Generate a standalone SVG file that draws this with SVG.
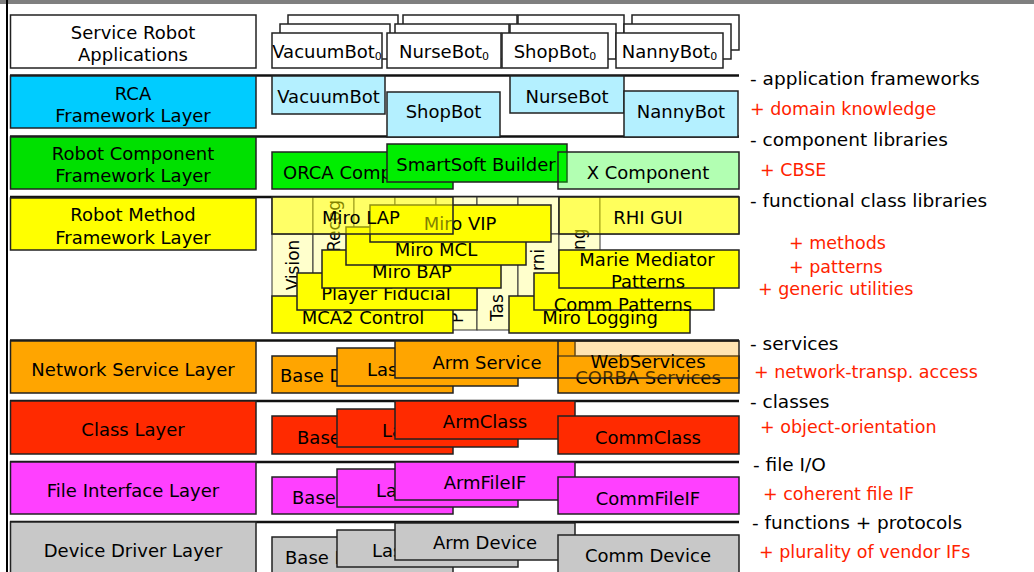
<svg xmlns="http://www.w3.org/2000/svg" width="1034" height="572" viewBox="0 0 1034 572">
  <style>
    .t { font-family: "DejaVu Sans", "Liberation Sans", sans-serif; font-size: 18px; fill: #000; dominant-baseline: central; }
    .m { text-anchor: middle; }
    .note { font-size: 18.5px; }
    .red { fill: #ff2200; font-size: 17.5px; }
    .sub { font-size: 11px; }
    .b { stroke: #222; stroke-width: 1.5; }
    .cell { fill: #ffffcc; stroke: #333; stroke-width: 1; }
    .app { fill: #fff; }
    .cyan { fill: #b4f0ff; }
    .green { fill: #00ee00; }
    .yel { fill: #ffff00; }
    .org { fill: #ffa500; }
    .redf { fill: #ff2a00; }
    .mag { fill: #ff40ff; }
    .gry { fill: #c8c8c8; }
    .rule { stroke: #111; stroke-width: 2.5; }
    .rot { font-size: 17px; }
  </style>

  <!-- frame -->
  <rect x="0" y="0" width="1034" height="4" fill="#7f7f7f"/>
  <line x1="7" y1="0" x2="7" y2="572" stroke="#000" stroke-width="2"/>

  <!-- layer separators -->
  <g id="connectors">
    <line class="rule" x1="10" y1="75.5" x2="739" y2="75.5"/>
    <line class="rule" x1="10" y1="136.5" x2="739" y2="136.5"/>
    <line class="rule" x1="10" y1="197" x2="739" y2="197"/>
    <line class="rule" x1="10" y1="340.5" x2="739" y2="340.5"/>
    <line class="rule" x1="10" y1="401" x2="739" y2="401"/>
    <line class="rule" x1="10" y1="462" x2="739" y2="462"/>
    <line class="rule" x1="10" y1="522" x2="739" y2="522"/>
  </g>

  <!-- layer names -->
  <g id="layer-apps">
    <rect class="b app" x="10.5" y="15" width="245.5" height="53"/>
    <text class="t m" x="133" y="32">Service Robot</text>
    <text class="t m" x="133" y="54">Applications</text>
  </g>
  <g id="layer-rca">
    <rect class="b" fill="#00ccff" x="10.5" y="76" width="245.5" height="52"/>
    <text class="t m" x="133" y="93">RCA</text>
    <text class="t m" x="133" y="115">Framework Layer</text>
  </g>
  <g id="layer-component">
    <rect class="b" fill="#00e000" x="10.5" y="137" width="245.5" height="52"/>
    <text class="t m" x="133" y="153">Robot Component</text>
    <text class="t m" x="133" y="175">Framework Layer</text>
  </g>
  <g id="layer-method">
    <rect class="b yel" x="10.5" y="198" width="245.5" height="52"/>
    <text class="t m" x="133" y="214">Robot Method</text>
    <text class="t m" x="133" y="237">Framework Layer</text>
  </g>
  <g id="layer-network">
    <rect class="b org" x="10.5" y="341" width="245.5" height="52"/>
    <text class="t m" x="133" y="369">Network Service Layer</text>
  </g>
  <g id="layer-class">
    <rect class="b redf" x="10.5" y="401" width="245.5" height="53"/>
    <text class="t m" x="133" y="429">Class Layer</text>
  </g>
  <g id="layer-file">
    <rect class="b mag" x="10.5" y="462" width="245.5" height="52"/>
    <text class="t m" x="133" y="490">File Interface Layer</text>
  </g>
  <g id="layer-device">
    <rect class="b gry" x="10.5" y="522" width="245.5" height="60"/>
    <text class="t m" x="133" y="550">Device Driver Layer</text>
  </g>

  <!-- application instances -->
  <g id="bot-vacuum0">
    <rect class="b app" x="288" y="15" width="110" height="35"/>
    <rect class="b app" x="280" y="24" width="110" height="35"/>
    <rect class="b app" x="272" y="33" width="110" height="35"/>
    <text class="t m" x="327" y="51">VacuumBot<tspan class="sub" dy="5">0</tspan></text>
  </g>
  <g id="bot-nurse0">
    <rect class="b app" x="403" y="15" width="114" height="35"/>
    <rect class="b app" x="395" y="24" width="114" height="35"/>
    <rect class="b app" x="387" y="33" width="114" height="35"/>
    <text class="t m" x="444" y="51">NurseBot<tspan class="sub" dy="5">0</tspan></text>
  </g>
  <g id="bot-shop0">
    <rect class="b app" x="518" y="15" width="106" height="35"/>
    <rect class="b app" x="510" y="24" width="106" height="35"/>
    <rect class="b app" x="502" y="33" width="106" height="35"/>
    <text class="t m" x="555" y="51">ShopBot<tspan class="sub" dy="5">0</tspan></text>
  </g>
  <g id="bot-nanny0">
    <rect class="b app" x="632" y="15" width="107" height="35"/>
    <rect class="b app" x="624" y="24" width="107" height="35"/>
    <rect class="b app" x="616" y="33" width="107" height="35"/>
    <text class="t m" x="669.5" y="51">NannyBot<tspan class="sub" dy="5">0</tspan></text>
  </g>

  <!-- application frameworks -->
  <g id="fw-vacuum">
    <rect class="b cyan" x="272" y="76" width="113" height="38"/>
    <text class="t m" x="328.5" y="96">VacuumBot</text>
  </g>
  <g id="fw-shop">
    <rect class="b cyan" x="387" y="92" width="113" height="45"/>
    <text class="t m" x="443.5" y="111">ShopBot</text>
  </g>
  <g id="fw-nurse">
    <rect class="b cyan" x="510" y="76" width="114" height="37"/>
    <text class="t m" x="567" y="96">NurseBot</text>
  </g>
  <g id="fw-nanny">
    <rect class="b cyan" x="624" y="91" width="114" height="46"/>
    <text class="t m" x="681" y="111">NannyBot</text>
  </g>

  <!-- component frameworks -->
  <g id="comp-orca">
    <rect class="b green" x="272" y="152" width="181" height="37"/>
    <text class="t" x="283" y="172">ORCA Component</text>
  </g>
  <g id="comp-smartsoft">
    <rect class="b green" x="387" y="144" width="180" height="38"/>
    <text class="t m" x="476" y="164">SmartSoft Builder</text>
  </g>
  <g id="comp-x">
    <rect class="b" fill="#00ff00" fill-opacity="0.3" x="558" y="152" width="181" height="37"/>
    <text class="t m" x="648" y="172">X Component</text>
  </g>

  <!-- method frameworks: background grid -->
  <g id="method-grid">
    <rect class="cell" x="272" y="197" width="41" height="37"/>
    <rect class="cell" x="313" y="197" width="41" height="37"/>
    <rect class="cell" x="354" y="197" width="41" height="37"/>
    <rect class="cell" x="395" y="197" width="41" height="37"/>
    <rect class="cell" x="436" y="197" width="41" height="37"/>
    <rect class="cell" x="477" y="197" width="41" height="37"/>
    <rect class="cell" x="518" y="197" width="41" height="37"/>
    <rect class="cell" x="559" y="197" width="41" height="37"/>
    <rect class="cell" x="600" y="197" width="139" height="37"/>
    <rect class="cell" x="272" y="234" width="41" height="96"/>
    <rect class="cell" x="313" y="234" width="41" height="96"/>
    <rect class="cell" x="354" y="234" width="41" height="96"/>
    <rect class="cell" x="395" y="234" width="41" height="96"/>
    <rect class="cell" x="436" y="234" width="41" height="96"/>
    <rect class="cell" x="477" y="234" width="41" height="96"/>
    <rect class="cell" x="518" y="234" width="41" height="96"/>
    <rect class="cell" x="559" y="234" width="41" height="96"/>
    <text class="t m rot" transform="translate(292.5 265) rotate(-90)">Vision</text>
    <text class="t rot" transform="translate(334 252) rotate(-90)">Recog</text>
    <text class="t rot" transform="translate(457 323) rotate(-90)">P</text>
    <text class="t rot" transform="translate(497 321) rotate(-90)">Tas</text>
    <text class="t rot" transform="translate(538 271) rotate(-90)">rni</text>
    <text class="t rot" transform="translate(579 250) rotate(-90)">ng</text>
  </g>

  <!-- method frameworks: left stack -->
  <g id="m-mca2">
    <rect class="b yel" x="272" y="296" width="181" height="37"/>
    <text class="t m" x="363" y="317">MCA2 Control</text>
  </g>
  <g id="m-player">
    <rect class="b yel" x="297" y="273" width="180" height="37"/>
    <text class="t m" x="386" y="293">Player Fiducial</text>
  </g>
  <g id="m-bap">
    <rect class="b yel" x="322" y="250" width="179" height="38"/>
    <text class="t m" x="412" y="271">Miro BAP</text>
  </g>
  <g id="m-mcl">
    <rect class="b yel" x="346" y="227" width="180" height="38"/>
    <text class="t m" x="436" y="249">Miro MCL</text>
  </g>
  <g id="m-vip">
    <rect class="b yel" x="370" y="205" width="181" height="37"/>
    <text class="t m" x="460" y="223">Miro VIP</text>
  </g>
  <g id="m-lap">
    <rect class="b" fill="#ffff00" fill-opacity="0.5" x="272" y="197" width="181" height="37"/>
    <text class="t m" x="361" y="217">Miro LAP</text>
  </g>

  <!-- method frameworks: right stack -->
  <g id="m-logging">
    <rect class="b yel" x="509" y="296" width="181" height="37"/>
    <text class="t m" x="600" y="317">Miro Logging</text>
  </g>
  <g id="m-comm">
    <rect class="b yel" x="534" y="273" width="180" height="37"/>
    <text class="t m" x="623" y="304">Comm Patterns</text>
  </g>
  <g id="m-marie">
    <rect class="b yel" x="559" y="250" width="180" height="38"/>
    <text class="t m" x="647" y="259">Marie Mediator</text>
    <text class="t m" x="648" y="281">Patterns</text>
  </g>
  <g id="m-rhi">
    <rect class="b" fill="#ffff00" fill-opacity="0.55" x="559" y="197" width="180" height="37"/>
    <text class="t m" x="648" y="217">RHI GUI</text>
  </g>

  <!-- network service layer -->
  <g id="n-base">
    <rect class="b org" x="272" y="356" width="181" height="37"/>
    <text class="t" x="280" y="375">Base D</text>
  </g>
  <g id="n-las">
    <rect class="b org" x="337" y="348" width="181" height="38"/>
    <text class="t" x="367" y="369">Las</text>
  </g>
  <g id="n-arm">
    <rect class="b org" x="395" y="341" width="180" height="37"/>
    <text class="t m" x="487" y="362">Arm Service</text>
  </g>
  <g id="n-corba">
    <rect class="b org" x="558" y="356" width="181" height="37"/>
    <text class="t m" x="648" y="377">CORBA Services</text>
  </g>
  <g id="n-web">
    <rect class="b" fill="#ffa500" fill-opacity="0.3" x="558" y="341" width="181" height="37"/>
    <text class="t m" x="648" y="361">WebServices</text>
  </g>

  <!-- class layer -->
  <g id="c-base">
    <rect class="b redf" x="272" y="416" width="181" height="38"/>
    <text class="t" x="297" y="437">Base</text>
  </g>
  <g id="c-las">
    <rect class="b redf" x="337" y="409" width="181" height="38"/>
    <text class="t" x="382" y="430">La</text>
  </g>
  <g id="c-arm">
    <rect class="b redf" x="395" y="401" width="180" height="38"/>
    <text class="t m" x="485" y="421">ArmClass</text>
  </g>
  <g id="c-comm">
    <rect class="b redf" x="558" y="416" width="181" height="38"/>
    <text class="t m" x="648" y="437">CommClass</text>
  </g>

  <!-- file interface layer -->
  <g id="f-base">
    <rect class="b mag" x="272" y="477" width="181" height="37"/>
    <text class="t" x="292" y="497">Base D</text>
  </g>
  <g id="f-las">
    <rect class="b mag" x="337" y="469" width="181" height="38"/>
    <text class="t" x="376" y="490">La</text>
  </g>
  <g id="f-arm">
    <rect class="b mag" x="395" y="462" width="180" height="38"/>
    <text class="t m" x="485" y="482">ArmFileIF</text>
  </g>
  <g id="f-comm">
    <rect class="b mag" x="558" y="477" width="181" height="37"/>
    <text class="t m" x="648" y="498">CommFileIF</text>
  </g>

  <!-- device driver layer -->
  <g id="d-base">
    <rect class="b gry" x="272" y="537" width="181" height="45"/>
    <text class="t" x="285" y="557">Base D</text>
  </g>
  <g id="d-las">
    <rect class="b gry" x="337" y="530" width="181" height="37"/>
    <text class="t" x="372" y="550">Las</text>
  </g>
  <g id="d-arm">
    <rect class="b gry" x="395" y="523" width="180" height="37"/>
    <text class="t m" x="485" y="542">Arm Device</text>
  </g>
  <g id="d-comm">
    <rect class="b gry" x="558" y="535" width="181" height="45"/>
    <text class="t m" x="648" y="555">Comm Device</text>
  </g>

  <!-- annotations -->
  <g id="notes">
    <text class="t note" x="750" y="78">- application frameworks</text>
    <text class="t red" x="750" y="109">+ domain knowledge</text>
    <text class="t note" x="750" y="139">- component libraries</text>
    <text class="t red" x="760" y="170">+ CBSE</text>
    <text class="t note" x="750" y="200">- functional class libraries</text>
    <text class="t red" x="789" y="243">+ methods</text>
    <text class="t red" x="789" y="267">+ patterns</text>
    <text class="t red" x="758" y="289">+ generic utilities</text>
    <text class="t note" x="750" y="343">- services</text>
    <text class="t red" x="754" y="372">+ network-transp. access</text>
    <text class="t note" x="750" y="401">- classes</text>
    <text class="t red" x="760" y="427">+ object-orientation</text>
    <text class="t note" x="753" y="464">- file I/O</text>
    <text class="t red" x="763" y="494">+ coherent file IF</text>
    <text class="t note" x="752" y="522">- functions + protocols</text>
    <text class="t red" x="759" y="552">+ plurality of vendor IFs</text>
  </g>
</svg>
